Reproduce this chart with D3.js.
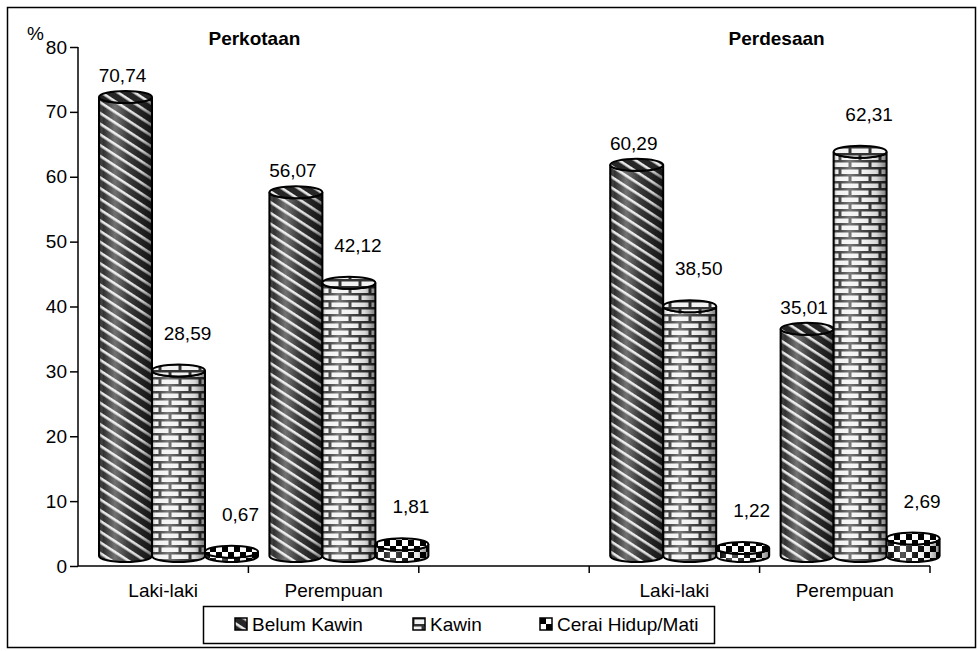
<!DOCTYPE html>
<html>
<head>
<meta charset="utf-8">
<script src="https://cdn.jsdelivr.net/npm/d3@7"></script>
<style>
  body { margin: 0; background: #fff; }
  svg text { font-family: "Liberation Sans", Arial, sans-serif; fill: #000; }
</style>
</head>
<body>
<svg id="chart" width="978" height="651"></svg>
<script>
// data
var groups = ["Perkotaan", "Perdesaan"];
var sexes = ["Laki-laki", "Perempuan"];
var series = ["Belum Kawin", "Kawin", "Cerai Hidup/Mati"];
var belumKawin = [70.74, 56.07, 60.29, 35.01];
var kawin = [28.59, 42.12, 38.50, 62.31];
var ceraiHidupMati = [0.67, 1.81, 1.22, 2.69];
var yTicks = [0, 10, 20, 30, 40, 50, 60, 70, 80];

var values = [belumKawin, kawin, ceraiHidupMati];

// slots on the x axis: Perkotaan (2), an empty slot, Perdesaan (2)
var slots = [];
groups.forEach(function (g, gi) {
  if (gi > 0) slots.push("gap");
  sexes.forEach(function (s) { slots.push(g + "|" + s); });
});

var rows = [];
var k = 0;
groups.forEach(function (g) {
  sexes.forEach(function (s) {
    series.forEach(function (name, si) {
      rows.push({ slot: g + "|" + s, series: name, si: si, value: values[si][k] });
    });
    k++;
  });
});

var svg = d3.select("#chart");
var depth = 10, ry = 6, fs = 19;

var x = d3.scaleBand().domain(slots).range([78, 930]);
var xs = d3.scaleBand().domain(series).range([21, 180]);
var y = d3.scaleLinear().domain([0, 80]).range([566, 47]);

var locale = d3.formatLocale({ decimal: ",", thousands: ".", grouping: [3], currency: ["", ""] });
var fmt = locale.format(".2f");

// ---------- patterns ----------
var defs = svg.append("defs");

var stripes = defs.append("pattern").attr("id", "pStripes")
  .attr("patternUnits", "userSpaceOnUse").attr("width", 9).attr("height", 9)
  .attr("patternTransform", "rotate(33)");
stripes.append("rect").attr("width", 9).attr("height", 9).attr("fill", "#262626");
stripes.append("rect").attr("y", 3).attr("width", 9).attr("height", 2.6).attr("fill", "#e8e8e8");

var bricks = defs.append("pattern").attr("id", "pBricks")
  .attr("patternUnits", "userSpaceOnUse").attr("width", 20).attr("height", 14);
bricks.append("rect").attr("width", 20).attr("height", 14).attr("fill", "#333");
bricks.append("rect").attr("x", 1.5).attr("y", 1.5).attr("width", 17).attr("height", 4.5).attr("fill", "#f2f2f2");
bricks.append("rect").attr("x", -8.5).attr("y", 8.5).attr("width", 17).attr("height", 4.5).attr("fill", "#f2f2f2");
bricks.append("rect").attr("x", 11.5).attr("y", 8.5).attr("width", 17).attr("height", 4.5).attr("fill", "#f2f2f2");

var checks = defs.append("pattern").attr("id", "pChecks")
  .attr("patternUnits", "userSpaceOnUse").attr("width", 12).attr("height", 12);
checks.append("rect").attr("width", 12).attr("height", 12).attr("fill", "#fff");
checks.append("rect").attr("width", 6).attr("height", 6).attr("fill", "#000");
checks.append("rect").attr("x", 6).attr("y", 6).attr("width", 6).attr("height", 6).attr("fill", "#000");

var fills = ["url(#pStripes)", "url(#pBricks)", "url(#pChecks)"];

// cylinder shading
var shade = defs.append("linearGradient").attr("id", "gShade")
  .attr("x1", "0%").attr("x2", "100%").attr("y1", "0%").attr("y2", "0%");
[[0, "#000", 0.45], [0.08, "#fff", 0.05], [0.3, "#fff", 0.35], [0.55, "#fff", 0.1],
 [0.8, "#000", 0.1], [1, "#000", 0.5]].forEach(function (s) {
  shade.append("stop").attr("offset", s[0]).attr("stop-color", s[1]).attr("stop-opacity", s[2]);
});

// ---------- frame ----------
svg.append("rect").attr("x", 7.5).attr("y", 7.5).attr("width", 968).attr("height", 640)
  .attr("fill", "none").attr("stroke", "#000").attr("stroke-width", 1.5);

// ---------- axes ----------
var yAxis = svg.append("g").attr("transform", "translate(78,0)")
  .call(d3.axisLeft(y).tickValues(yTicks).tickSize(8).tickPadding(3).tickFormat(d3.format("d")));
yAxis.select(".domain").attr("stroke-width", 1.5).attr("d", "M0," + y(80) + "V" + y(0));
yAxis.selectAll(".tick line").attr("stroke-width", 1.5);
yAxis.selectAll("text").attr("font-size", fs).attr("font-family", "Liberation Sans, Arial, sans-serif");

svg.append("text").attr("x", 27).attr("y", 40).attr("font-size", fs).text("%");

var xAxis = svg.append("g").attr("transform", "translate(0," + y(0) + ")");
xAxis.append("line").attr("x1", 78).attr("x2", 930).attr("stroke", "#000").attr("stroke-width", 1.5);
xAxis.selectAll(".xt").data(slots).enter().append("line")
  .attr("x1", function (d) { return x(d) + x.bandwidth(); })
  .attr("x2", function (d) { return x(d) + x.bandwidth(); })
  .attr("y1", 0).attr("y2", 7).attr("stroke", "#000").attr("stroke-width", 1.5);
xAxis.selectAll(".xl").data(slots.filter(function (d) { return d !== "gap"; })).enter().append("text")
  .attr("x", function (d) { return x(d) + x.bandwidth() / 2; })
  .attr("y", 31).attr("text-anchor", "middle").attr("font-size", fs)
  .text(function (d) { return d.split("|")[1]; });

// ---------- group titles ----------
var titleDx = [6, 17];
svg.selectAll(".gt").data(groups).enter().append("text")
  .attr("x", function (g, i) {
    return (x(g + "|" + sexes[0]) + x(g + "|" + sexes[1]) + x.bandwidth()) / 2 + titleDx[i];
  })
  .attr("y", 45).attr("text-anchor", "middle").attr("font-size", fs).attr("font-weight", "bold")
  .text(function (d) { return d; });

// ---------- cylinders ----------
function bodyPath(x0, w, yt, yb) {
  var rx = w / 2;
  return "M" + x0 + "," + yt + "L" + x0 + "," + yb +
    "A" + rx + "," + ry + " 0 0 0 " + (x0 + w) + "," + yb +
    "L" + (x0 + w) + "," + yt +
    "A" + rx + "," + ry + " 0 0 1 " + x0 + "," + yt + "Z";
}

var bars = svg.append("g").selectAll("g").data(rows).enter().append("g");
bars.each(function (d) {
  var g = d3.select(this);
  var x0 = x(d.slot) + xs(d.series), w = xs.bandwidth();
  var yt = y(d.value) - depth, yb = y(0) - depth;
  var p = bodyPath(x0, w, yt, yb);
  g.append("path").attr("d", p).attr("fill", fills[d.si]);
  g.append("path").attr("d", p).attr("fill", "url(#gShade)")
    .attr("stroke", "#000").attr("stroke-width", 2);
  g.append("ellipse").attr("cx", x0 + w / 2).attr("cy", yt).attr("rx", w / 2).attr("ry", ry)
    .attr("fill", fills[d.si]).attr("stroke", "#000").attr("stroke-width", 2);
});

// value labels
var labelOff = [[-3, -22], [9, -38], [9, -38]];
svg.append("g").selectAll("text").data(rows).enter().append("text")
  .attr("x", function (d) { return x(d.slot) + xs(d.series) + xs.bandwidth() / 2 + labelOff[d.si][0]; })
  .attr("y", function (d) { return y(d.value) - depth + labelOff[d.si][1] + 7; })
  .attr("text-anchor", "middle").attr("font-size", fs)
  .text(function (d) { return fmt(d.value); });

// ---------- legend ----------
var legend = svg.append("g");
legend.append("rect").attr("x", 203.5).attr("y", 606.5).attr("width", 511).attr("height", 37)
  .attr("fill", "#fff").attr("stroke", "#000").attr("stroke-width", 1.5);
var legX = [235, 413, 540];
var items = legend.selectAll("g").data(series).enter().append("g")
  .attr("transform", function (d, i) { return "translate(" + legX[i] + ",618)"; });
items.append("rect").attr("width", 12).attr("height", 12)
  .attr("fill", function (d, i) { return fills[i]; }).attr("stroke", "#000").attr("stroke-width", 1.5);
items.append("text").attr("x", 17).attr("y", 13).attr("font-size", fs).text(function (d) { return d; });
</script>
</body>
</html>
